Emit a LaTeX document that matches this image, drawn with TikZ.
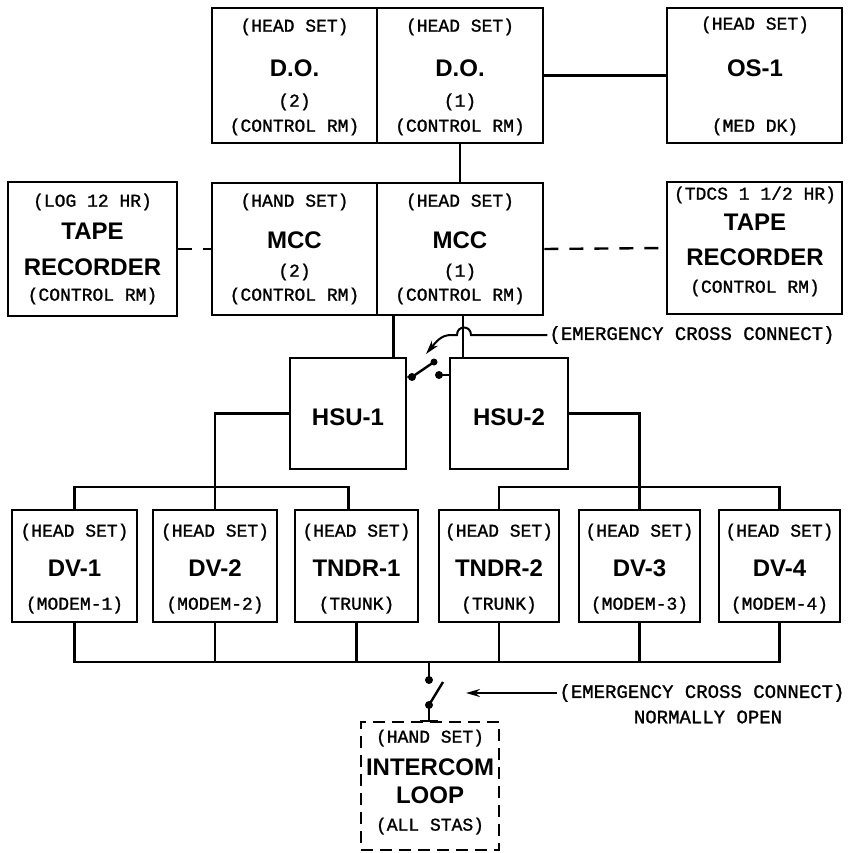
\documentclass[tikz,border=0pt]{standalone}
\usepackage{fontspec}
\setmainfont{Liberation Serif}
\newfontfamily\twf{Liberation Mono}[FakeBold=1.2]
\newfontfamily\bgf{Liberation Sans}
\usetikzlibrary{arrows.meta}
\begin{document}
\begin{tikzpicture}[x=1pt,y=-1pt,
  box/.style 2 args={draw,line width=2.6pt,minimum width=#1,minimum height=#2,inner sep=0pt},
  dbox/.style 2 args={draw,line width=2.6pt,dash pattern=on 12pt off 7pt,minimum width=#1,minimum height=#2,inner sep=0pt},
  tw/.style={font=\twf\fontsize{18}{18}\selectfont,inner sep=0pt},
  lab/.style={font=\twf\fontsize{19}{19}\selectfont,inner sep=2pt},
  big/.style={font=\bgf\bfseries\fontsize{24}{24}\selectfont,inner sep=0pt},
  wire/.style={line width=2.4pt},
  dwire/.style={line width=2.4pt,dash pattern=on 14pt off 11pt},
  arr/.style={line width=2pt,-{Stealth[length=14pt,width=8pt]}},
  dot/.style={fill=black}]
\useasboundingbox[fill=white] (0,0) rectangle (852,853);

% ---------- boxes ----------
\node[box={165pt}{135pt}] (do2) at (294.5,75.5) {};
\node[box={166pt}{135pt}] (do1) at (460,75.5) {};
\node[box={175pt}{135pt}] (os1) at (754.5,75.5) {};
\node[box={169pt}{134pt}] (tr1) at (92.5,249) {};
\node[box={165pt}{132pt}] (mcc2) at (294.5,249) {};
\node[box={166pt}{132pt}] (mcc1) at (460,249) {};
\node[box={175pt}{132pt}] (tr2) at (754.5,248) {};
\node[box={116pt}{111pt}] (hsu1) at (348,413.5) {};
\node[box={118pt}{111pt}] (hsu2) at (509,413.5) {};
\node[box={125pt}{112pt}] (dv1) at (74.5,566) {};
\node[box={124pt}{112pt}] (dv2) at (215,566) {};
\node[box={123pt}{112pt}] (tndr1) at (356.5,566) {};
\node[box={120pt}{112pt}] (tndr2) at (499,566) {};
\node[box={121pt}{112pt}] (dv3) at (639.5,566) {};
\node[box={121pt}{112pt}] (dv4) at (779.5,566) {};
\node[dbox={138pt}{128pt}] (ic) at (430,786) {};

% ---------- texts ----------
\node[tw] (do2a) at (294.5,27) {(HEAD SET)};
\node[big] (do2b) at (294.5,68) {D.O.};
\node[tw] (do2c) at (294.5,102) {(2)};
\node[tw] (do2d) at (294.5,127) {(CONTROL RM)};
\node[tw] (do1a) at (460,27) {(HEAD SET)};
\node[big] (do1b) at (460,68) {D.O.};
\node[tw] (do1c) at (460,102) {(1)};
\node[tw] (do1d) at (460,127) {(CONTROL RM)};
\node[tw] (os1a) at (755,25) {(HEAD SET)};
\node[big] (os1b) at (755,68) {OS-1};
\node[tw] (os1c) at (755,127) {(MED DK)};

\node[tw] (tr1a) at (92.5,202) {(LOG 12 HR)};
\node[big] (tr1b) at (92.5,231) {TAPE};
\node[big] (tr1c) at (92.5,267) {RECORDER};
\node[tw] (tr1d) at (92.5,296) {(CONTROL RM)};
\node[tw] (mcc2a) at (294.5,202) {(HAND SET)};
\node[big] (mcc2b) at (294.5,240) {MCC};
\node[tw] (mcc2c) at (294.5,272) {(2)};
\node[tw] (mcc2d) at (294.5,296) {(CONTROL RM)};
\node[tw] (mcc1a) at (460,202) {(HEAD SET)};
\node[big] (mcc1b) at (460,240) {MCC};
\node[tw] (mcc1c) at (460,272) {(1)};
\node[tw] (mcc1d) at (460,296) {(CONTROL RM)};
\node[tw] (tr2a) at (755,195) {(TDCS 1 1/2 HR)};
\node[big] (tr2b) at (755,222) {TAPE};
\node[big] (tr2c) at (755,257) {RECORDER};
\node[tw] (tr2d) at (755,288) {(CONTROL RM)};

\node[big] (hsu1t) at (348,417) {HSU-1};
\node[big] (hsu2t) at (509,417) {HSU-2};

\foreach \n/\m/\s in {dv1/DV-1/(MODEM-1),dv2/DV-2/(MODEM-2),tndr1/TNDR-1/(TRUNK),tndr2/TNDR-2/(TRUNK),dv3/DV-3/(MODEM-3),dv4/DV-4/(MODEM-4)}{
  \node[tw] (\n a) at (\n.center |- 0,532) {(HEAD SET)};
  \node[big] (\n b) at (\n.center |- 0,568) {\m};
  \node[tw] (\n c) at (\n.center |- 0,605) {\s};
}

\node[tw] (ica) at (430,738) {(HAND SET)};
\node[big] (icb) at (430,767) {INTERCOM};
\node[big] (icc) at (430,795) {LOOP};
\node[tw] (icd) at (430,826) {(ALL STAS)};

\node[lab] (ecc1) at (692,335) {(EMERGENCY CROSS CONNECT)};
\node[lab] (ecc2) at (702,693) {(EMERGENCY CROSS CONNECT)};
\node[lab] (nopen) at (708,717) {NORMALLY OPEN};

% ---------- connectors ----------
\draw[wire] (do1) -- (os1);
\draw[wire] (do1.south) -- (mcc1.north);
\draw[dwire] (tr1.east) -- (mcc2.west);
\draw[dwire] (mcc1.east) -- (tr2.west);

\draw[wire] ([xshift=-14pt]hsu1.north east) -- ([xshift=-14pt]hsu1.north east |- mcc2.south);
\draw[wire] ([xshift=14pt]hsu2.north west) -- ([xshift=14pt]hsu2.north west |- mcc1.south);

% upper emergency cross connect
\coordinate (h1) at (471,335);
\coordinate (h2) at (457,335);
\coordinate (h3) at (451,335);
\coordinate (a1tip) at (426,354);
\draw[arr] (ecc1.west) -- (h1) .. controls (471,325) and (457,325) .. (h2) -- (h3) .. controls (441,335) and (436,342) .. (a1tip);

% HSU switch
\coordinate (swa) at (412,377);
\coordinate (swe) at (434,362);
\coordinate (swb) at (439,375);
\draw[wire] (swa -| hsu1.east) -- (swa) -- (swe);
\draw[wire] (swb) -- (swb -| hsu2.west);
\fill[dot] (swa) circle (4);
\fill[dot] (swe) circle (3.5);
\fill[dot] (swb) circle (4);

% HSU to stations
\coordinate (b1) at (0,487);
\draw[wire] (hsu1.west) -| (dv2.north);
\draw[wire] (dv1.north) -- (dv1.north |- b1) -- ([xshift=-8pt]tndr1.north |- b1) -- ([xshift=-8pt]tndr1.north);
\draw[wire] (hsu2.east) -| (dv3.north);
\draw[wire] (tndr2.north) -- (tndr2.north |- b1) -- (dv4.north |- b1) -- (dv4.north);

% lower bus
\coordinate (b2) at (0,662);
\draw[wire] (dv1.south) -- (dv1.south |- b2) -- (dv4.south |- b2) -- (dv4.south);
\foreach \n in {dv2,tndr1,tndr2,dv3}{\draw[wire] (\n.south) -- (\n.south |- b2);}

% lower switch
\coordinate (s2t) at (429,680);
\coordinate (s2b) at (429,705);
\coordinate (s2e) at (443,682);
\draw[wire] (s2t |- b2) -- (s2t);
\draw[wire] (s2b) -- (s2b |- ic.north);
\draw[wire] ([xshift=-9pt]s2b |- ic.north) -- ([xshift=9pt]s2b |- ic.north);
\draw[wire] (s2b) -- (s2e);
\fill[dot] (s2t) circle (4);
\fill[dot] (s2b) circle (4);
\coordinate (a2tip) at (466,693);
\draw[arr] (ecc2.west) -- (a2tip);
\end{tikzpicture}
\end{document}
